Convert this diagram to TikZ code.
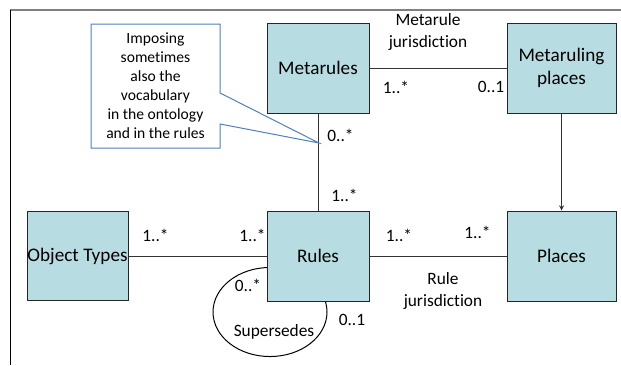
\documentclass[tikz,border=0pt]{standalone}
\usepackage{fontspec}
\setmainfont{Carlito}[Ligatures=NoCommon]
\usetikzlibrary{arrows,
  shapes.callouts
}
\definecolor{boxfill}{RGB}{183,221,226}
\definecolor{noteblue}{RGB}{79,129,189}
\tikzstyle{classbox} = [draw=black!85, fill=boxfill, line width=0.75pt,
  inner sep=0pt, minimum width=76.5pt, minimum height=67.5pt,
  align=center, font=\fontsize{14.4}{17.25}\selectfont]
\tikzstyle{mult} = [inner sep=0pt, align=center,
  font=\fontsize{13}{16.25}\selectfont]
\tikzstyle{assoc} = [draw=black!80, line width=0.75pt]

\begin{document}
\begin{tikzpicture}[x=0.75pt, y=-0.75pt]
  \useasboundingbox (0,0) rectangle (621,365);
  % frame
  \draw[black!50, line width=1.5pt] (10,10) -- (621,10);
  \draw[black, line width=0.75pt] (10,10) -- (10,365);

  % Supersedes loop
  \draw[line width=0.75pt] (270,312) ellipse [x radius=42.75pt, y radius=33.4pt];

  % classes
  \node[classbox] (metarules) at (318,68) {Metarules};
  \node[classbox, minimum width=81.75pt] (metaplaces) at (561.5,68) {Metaruling\\places};
  \node[classbox] (rules) at (318,256) {Rules};
  \node[classbox, minimum width=81.75pt] (places) at (561.5,256) {Places};
  \node[classbox, minimum width=75.75pt, minimum height=66.75pt] (objtypes) at (77.5,256) {Object Types};

  % associations
  \draw[assoc] (metarules) -- (metaplaces);
  \draw[assoc] (metarules) -- (rules);
  \draw[assoc, ->, >=stealth] (metaplaces) -- (places);
  \draw[assoc] (objtypes) -- (rules);
  \draw[assoc] (rules) -- (places);

  % Metarule jurisdiction
  \node[mult] (mrjur) at (428,32) {Metarule\\jurisdiction};
  \node[mult] (mrone) at (396,87) {1..*};
  \node[mult] (mrzero) at (491,87) {0..1};

  % Metarules - Rules
  \node[mult] (mrtop) at (340.5,135) {0..*};
  \node[mult] (mrbot) at (344.5,195) {1..*};

  % Object Types - Rules
  \node[mult] (otleft) at (155.5,235) {1..*};
  \node[mult] (otright) at (252.5,235) {1..*};

  % Rule jurisdiction
  \node[mult] (rjleft) at (399,235) {1..*};
  \node[mult] (rjright) at (477.5,232) {1..*};
  \node[mult] (rjur) at (443,291) {Rule\\jurisdiction};

  % Supersedes
  \node[mult] (supin) at (248,285) {0..*};
  \node[mult] (supname) at (274,332) {Supersedes};
  \node[mult] (supout) at (352,320) {0..1};

  % note
  \coordinate (tip) at (319,143);
  \node[rectangle callout, draw=noteblue, fill=white, line width=0.75pt,
    minimum width=96.75pt, minimum height=93pt, inner sep=0pt,
    callout absolute pointer={(tip)}, callout pointer width=23.25pt,
    align=center, font=\fontsize{11.7}{14.25}\selectfont]
    (note) at (155.5,86) {Imposing\\sometimes\\also the\\vocabulary\\in the ontology\\and in the rules};
\end{tikzpicture}
\end{document}
